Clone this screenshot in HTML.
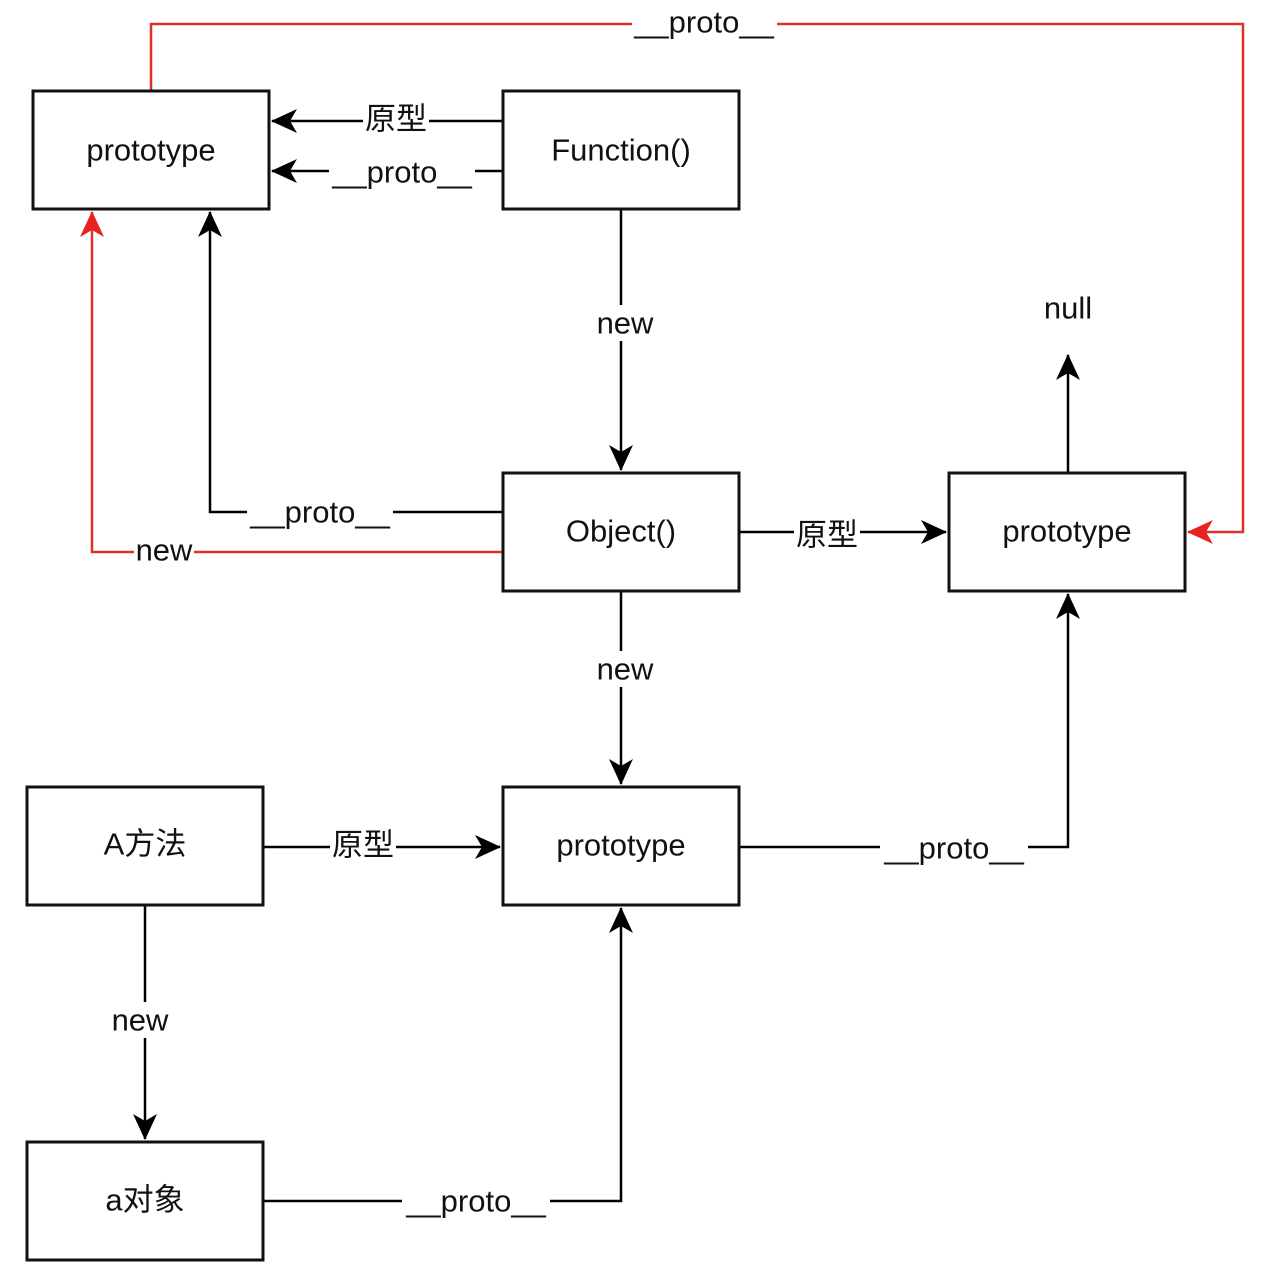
<!DOCTYPE html>
<html><head><meta charset="utf-8"><style>
html,body{margin:0;padding:0;background:#fff;}
svg{display:block;}
text{font-family:"Liberation Sans","Noto Sans CJK SC",sans-serif;font-size:31px;fill:#111;}
</style></head><body>
<svg width="1280" height="1278" viewBox="0 0 1280 1278" xmlns="http://www.w3.org/2000/svg">
<defs>
<marker id="ab" viewBox="0 0 26 24" refX="25" refY="12" markerWidth="26" markerHeight="24" markerUnits="userSpaceOnUse" orient="auto">
<path d="M0,0 L26,12 L0,24 L7,12 Z" fill="#000"/></marker>
<marker id="ar" viewBox="0 0 26 24" refX="25" refY="12" markerWidth="26" markerHeight="24" markerUnits="userSpaceOnUse" orient="auto">
<path d="M0,0 L26,12 L0,24 L7,12 Z" fill="#e8231f"/></marker>
</defs>
<g fill="none" stroke-width="2.5">
<!-- red loop -->
<path d="M151,91 V24 H1243 V532 H1188" stroke="#e0302b" marker-end="url(#ar)"/>
<path d="M503,552 H92 V212" stroke="#e0302b" marker-end="url(#ar)"/>
<!-- black -->
<path d="M503,121 H272" stroke="#000" marker-end="url(#ab)"/>
<path d="M503,171 H272" stroke="#000" marker-end="url(#ab)"/>
<path d="M621,209 V470" stroke="#000" marker-end="url(#ab)"/>
<path d="M1068,473 V355" stroke="#000" marker-end="url(#ab)"/>
<path d="M503,512 H210 V212" stroke="#000" marker-end="url(#ab)"/>
<path d="M739,532 H946" stroke="#000" marker-end="url(#ab)"/>
<path d="M621,591 V784" stroke="#000" marker-end="url(#ab)"/>
<path d="M739,847 H1068 V594" stroke="#000" marker-end="url(#ab)"/>
<path d="M263,847 H500" stroke="#000" marker-end="url(#ab)"/>
<path d="M145,905 V1139" stroke="#000" marker-end="url(#ab)"/>
<path d="M263,1201 H621 V908" stroke="#000" marker-end="url(#ab)"/>
</g>
<!-- label backgrounds -->
<g fill="#fff">
<rect x="632" y="6" width="145" height="36"/>
<rect x="363" y="103" width="66" height="36"/>
<rect x="329" y="154" width="146" height="36"/>
<rect x="594" y="305" width="62" height="36"/>
<rect x="247" y="495" width="146" height="36"/>
<rect x="134" y="534" width="60" height="36"/>
<rect x="794" y="515" width="66" height="36"/>
<rect x="594" y="651" width="62" height="36"/>
<rect x="880" y="830" width="148" height="36"/>
<rect x="330" y="828" width="66" height="36"/>
<rect x="108" y="1002" width="62" height="36"/>
<rect x="402" y="1184" width="148" height="36"/>
</g>
<!-- boxes -->
<g fill="#fff" stroke="#111" stroke-width="3">
<rect x="33" y="91" width="236" height="118"/>
<rect x="503" y="91" width="236" height="118"/>
<rect x="503" y="473" width="236" height="118"/>
<rect x="949" y="473" width="236" height="118"/>
<rect x="503" y="787" width="236" height="118"/>
<rect x="27" y="787" width="236" height="118"/>
<rect x="27" y="1142" width="236" height="118"/>
</g>
<g text-anchor="middle" dominant-baseline="central">
<text x="151" y="150">prototype</text>
<text x="621" y="150">Function()</text>
<text x="621" y="531">Object()</text>
<text x="1067" y="531">prototype</text>
<text x="621" y="845">prototype</text>
<text x="145" y="844">A方法</text>
<text x="145" y="1200">a对象</text>
<text x="1068" y="308">null</text>
<text x="704" y="22">__proto__</text>
<text x="396" y="119">原型</text>
<text x="402" y="172">__proto__</text>
<text x="625" y="323">new</text>
<text x="320" y="512">__proto__</text>
<text x="164" y="550">new</text>
<text x="827" y="535">原型</text>
<text x="625" y="669">new</text>
<text x="954" y="848">__proto__</text>
<text x="363" y="845">原型</text>
<text x="140" y="1020">new</text>
<text x="476" y="1201">__proto__</text>
</g>
</svg>
</body></html>
